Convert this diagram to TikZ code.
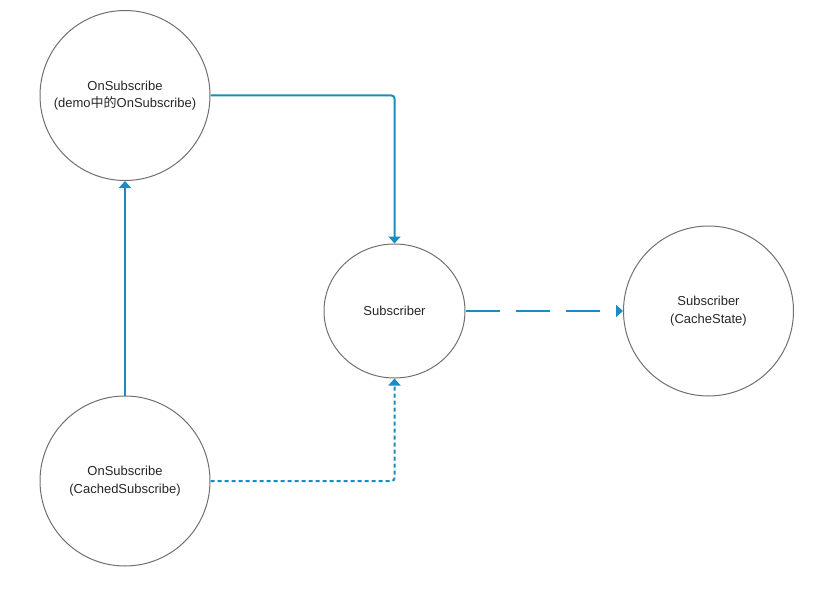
\documentclass[tikz,border=0pt]{standalone}
\usepackage{fontspec}
\setmainfont{Liberation Sans}
\newfontfamily\cjk{Noto Sans CJK SC}
\usetikzlibrary{arrows.meta,shapes.geometric}
\definecolor{flowblue}{HTML}{1A8CC0}
\definecolor{ringgray}{HTML}{707070}
\tikzset{
  ring/.style={circle,draw=ringgray,line width=1pt,minimum size=170pt,inner sep=0pt,align=center,
    font=\fontsize{13}{17.5}\selectfont,text=black!85},
  oval/.style={ellipse,draw=ringgray,line width=1pt,minimum width=141pt,minimum height=134pt,inner sep=0pt,align=center,
    font=\fontsize{13}{17.5}\selectfont,text=black!85},
  flow/.style={draw=flowblue,line width=2pt,-{Triangle[width=12pt,length=7pt]},rounded corners=3pt},
  shortdash/.style={dash pattern=on 4pt off 3pt},
  longdash/.style={dash pattern=on 34pt off 16pt}
}
\begin{document}
\begin{tikzpicture}[x=1pt,y=-1pt]
\useasboundingbox (0,0) rectangle (823,594);
\node[ring] (A) at (125,95.5) {OnSubscribe\\(demo{\cjk 中的}OnSubscribe)};
\node[ring] (B) at (125,481) {OnSubscribe\\(CachedSubscribe)};
\node[oval] (S) at (394.5,311) {Subscriber};
\node[ring] (R) at (708.5,311) {Subscriber\\(CacheState)};
\draw[flow] (A.east) -| (S.north);
\draw[flow] (B.north) -- (A.south);
\draw[flow,shortdash] (B.east) -| (S.south);
\draw[flow,longdash] (S.east) -- (R.west);
\end{tikzpicture}
\end{document}
